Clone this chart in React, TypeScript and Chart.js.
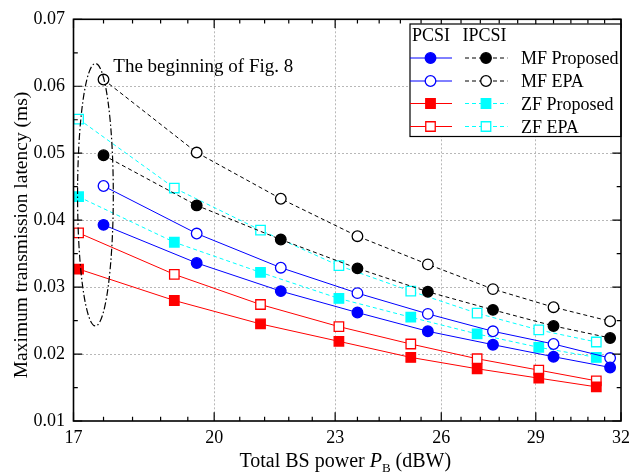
import { useEffect, useRef } from "react";
import { Chart, registerables } from "chart.js";

Chart.register(...registerables);

const FONT = "'Liberation Serif', 'Times New Roman', serif";

const xTickValues = [17, 20, 23, 26, 29, 32];
const yTickValues = [0.01, 0.02, 0.03, 0.04, 0.05, 0.06, 0.07];

// x positions of the markers (dBW)
const xMF = [17.6, 19.6, 21.6, 23.6, 25.6, 27.6, 29.6, 31.6];
const xZF = [17.1, 19.1, 21.1, 23.1, 25.1, 27.1, 29.1, 31.1];

// PCSI
const mfProposedPCSI = [0.0393, 0.0336, 0.0294, 0.0262, 0.0234, 0.0214, 0.0196, 0.018];
const mfEpaPCSI = [0.0451, 0.038, 0.0329, 0.0291, 0.026, 0.0234, 0.0215, 0.0194];
const zfProposedPCSI = [0.0327, 0.028, 0.0245, 0.0219, 0.0195, 0.0178, 0.0164, 0.0151];
const zfEpaPCSI = [0.0381, 0.0319, 0.0274, 0.0241, 0.0215, 0.0193, 0.0176, 0.016];
// IPCSI
const mfProposedIPCSI = [0.0497, 0.0422, 0.0371, 0.0328, 0.0293, 0.0266, 0.0242, 0.0224];
const mfEpaIPCSI = [0.061, 0.0501, 0.0432, 0.0376, 0.0334, 0.0297, 0.027, 0.0249];
const zfProposedIPCSI = [0.0435, 0.0367, 0.0322, 0.0283, 0.0255, 0.023, 0.021, 0.0195];
const zfEpaIPCSI = [0.0551, 0.0448, 0.0385, 0.0332, 0.0294, 0.0261, 0.0236, 0.0218];

const legendLabels = ["MF Proposed", "MF EPA", "ZF Proposed", "ZF EPA"];

// annotation (data coordinates)
const ellipseXRange = [17.08, 17.8];
const ellipseYRange = [0.0242, 0.0634];
const noteText = "The beginning of Fig. 8";
const noteAt = [17.8, 0.0621];

type Spec = {
  label: string;
  xs: number[];
  ys: number[];
  color: string;
  shape: "circle" | "rect";
  filled: boolean;
  dashed: boolean;
};

const specs: Spec[] = [
  { label: "MF Proposed PCSI", xs: xMF, ys: mfProposedPCSI, color: "#0000ff", shape: "circle", filled: true, dashed: false },
  { label: "MF EPA PCSI", xs: xMF, ys: mfEpaPCSI, color: "#0000ff", shape: "circle", filled: false, dashed: false },
  { label: "ZF Proposed PCSI", xs: xZF, ys: zfProposedPCSI, color: "#ff0000", shape: "rect", filled: true, dashed: false },
  { label: "ZF EPA PCSI", xs: xZF, ys: zfEpaPCSI, color: "#ff0000", shape: "rect", filled: false, dashed: false },
  { label: "MF Proposed IPCSI", xs: xMF, ys: mfProposedIPCSI, color: "#000000", shape: "circle", filled: true, dashed: true },
  { label: "MF EPA IPCSI", xs: xMF, ys: mfEpaIPCSI, color: "#000000", shape: "circle", filled: false, dashed: true },
  { label: "ZF Proposed IPCSI", xs: xZF, ys: zfProposedIPCSI, color: "#00ffff", shape: "rect", filled: true, dashed: true },
  { label: "ZF EPA IPCSI", xs: xZF, ys: zfEpaIPCSI, color: "#00ffff", shape: "rect", filled: false, dashed: true },
];

const CIRCLE_R = 5.3;
const RECT_R = 6.7;
const DASH = [4, 3];

function drawMarker(ctx: CanvasRenderingContext2D, s: Spec, x: number, y: number) {
  ctx.save();
  ctx.setLineDash([]);
  ctx.lineWidth = 1.3;
  ctx.strokeStyle = s.color;
  ctx.fillStyle = s.filled ? s.color : "#ffffff";
  ctx.beginPath();
  if (s.shape === "circle") {
    ctx.arc(x, y, CIRCLE_R, 0, Math.PI * 2);
  } else {
    const h = RECT_R * Math.SQRT1_2;
    ctx.rect(x - h, y - h, 2 * h, 2 * h);
  }
  ctx.fill();
  ctx.stroke();
  ctx.restore();
}

const framePlugin = {
  id: "frameDecor",
  afterDatasetsDraw(chart: any) {
    const ctx: CanvasRenderingContext2D = chart.ctx;
    const { left, right, top, bottom } = chart.chartArea;
    const xs = chart.scales.x;
    const ys = chart.scales.y;
    ctx.save();

    // ellipse annotation
    const ex0 = xs.getPixelForValue(ellipseXRange[0]);
    const ex1 = xs.getPixelForValue(ellipseXRange[1]);
    const ey0 = ys.getPixelForValue(ellipseYRange[0]);
    const ey1 = ys.getPixelForValue(ellipseYRange[1]);
    ctx.beginPath();
    ctx.setLineDash([7, 2.5, 1.5, 2.5]);
    ctx.lineWidth = 1.2;
    ctx.strokeStyle = "#000";
    ctx.ellipse((ex0 + ex1) / 2, (ey0 + ey1) / 2, Math.abs(ex1 - ex0) / 2, Math.abs(ey1 - ey0) / 2, 0, 0, Math.PI * 2);
    ctx.stroke();
    ctx.setLineDash([]);

    ctx.fillStyle = "#000";
    ctx.font = `19px ${FONT}`;
    ctx.textAlign = "left";
    ctx.textBaseline = "alphabetic";
    ctx.fillText(noteText, xs.getPixelForValue(noteAt[0]), ys.getPixelForValue(noteAt[1]));

    // ticks (inward)
    ctx.strokeStyle = "#000";
    ctx.lineWidth = 1.2;
    const MAJ = 8.7;
    const MIN = 4.3;
    const xMinor: number[] = [];
    for (let a = 17; a < 32; a += 3) for (let k = 1; k < 5; k++) xMinor.push(a + 0.6 * k);
    const yMinor: number[] = [];
    for (let v = 0.015; v < 0.07; v += 0.01) yMinor.push(v);
    ctx.beginPath();
    xTickValues.forEach((v) => {
      const p = xs.getPixelForValue(v);
      ctx.moveTo(p, bottom); ctx.lineTo(p, bottom - MAJ);
      ctx.moveTo(p, top); ctx.lineTo(p, top + MAJ);
    });
    xMinor.forEach((v) => {
      const p = xs.getPixelForValue(v);
      ctx.moveTo(p, bottom); ctx.lineTo(p, bottom - MIN);
      ctx.moveTo(p, top); ctx.lineTo(p, top + MIN);
    });
    yTickValues.forEach((v) => {
      const p = ys.getPixelForValue(v);
      ctx.moveTo(left, p); ctx.lineTo(left + MAJ, p);
      ctx.moveTo(right, p); ctx.lineTo(right - MAJ, p);
    });
    yMinor.forEach((v) => {
      const p = ys.getPixelForValue(v);
      ctx.moveTo(left, p); ctx.lineTo(left + MIN, p);
      ctx.moveTo(right, p); ctx.lineTo(right - MIN, p);
    });
    ctx.stroke();

    // legend box
    const lx0 = 410, lx1 = right, ly0 = 24, ly1 = 136.5;
    ctx.fillStyle = "#fff";
    ctx.fillRect(lx0, ly0, lx1 - lx0, ly1 - ly0);
    ctx.lineWidth = 1.2;
    ctx.strokeRect(lx0, ly0, lx1 - lx0, ly1 - ly0);
    ctx.fillStyle = "#000";
    ctx.font = `18px ${FONT}`;
    ctx.fillText("PCSI", 412, 40.5);
    ctx.fillText("IPCSI", 462.5, 40.5);
    const rowY = [58, 81, 103.5, 126.5];
    legendLabels.forEach((lab, i) => {
      const y = rowY[i];
      const a = specs[i];
      const b = specs[i + 4];
      ctx.lineWidth = 1;
      ctx.strokeStyle = a.color;
      ctx.setLineDash([]);
      ctx.beginPath(); ctx.moveTo(410, y); ctx.lineTo(452, y); ctx.stroke();
      drawMarker(ctx, a, 430.5, y);
      ctx.strokeStyle = b.color;
      ctx.lineWidth = 1;
      ctx.setLineDash(DASH);
      ctx.beginPath(); ctx.moveTo(465, y); ctx.lineTo(507.5, y); ctx.stroke();
      ctx.setLineDash([]);
      drawMarker(ctx, b, 486, y);
      ctx.fillStyle = "#000";
      ctx.fillText(lab, 521, y + 6.3);
    });

    // frame
    ctx.strokeStyle = "#000";
    ctx.lineWidth = 1.6;
    ctx.strokeRect(left, top, right - left, bottom - top);

    // axis titles
    ctx.fillStyle = "#000";
    const cx = (left + right) / 2 - 2;
    const base = 466.5;
    const p1 = "Total BS power ";
    const p3 = " (dBW)";
    ctx.font = `20px ${FONT}`;
    const w1 = ctx.measureText(p1).width;
    const w3 = ctx.measureText(p3).width;
    ctx.font = `italic 20px ${FONT}`;
    const wP = ctx.measureText("P").width;
    ctx.font = `13px ${FONT}`;
    const wB = ctx.measureText("B").width;
    let x0 = cx - (w1 + wP + wB + w3) / 2;
    ctx.textAlign = "left";
    ctx.font = `20px ${FONT}`;
    ctx.fillText(p1, x0, base);
    x0 += w1;
    ctx.font = `italic 20px ${FONT}`;
    ctx.fillText("P", x0, base);
    x0 += wP;
    ctx.font = `13px ${FONT}`;
    ctx.fillText("B", x0, base + 5);
    x0 += wB;
    ctx.font = `20px ${FONT}`;
    ctx.fillText(p3, x0, base);

    ctx.save();
    ctx.translate(22, 235);
    ctx.rotate(-Math.PI / 2);
    ctx.font = `19.5px ${FONT}`;
    ctx.textAlign = "center";
    ctx.textBaseline = "middle";
    ctx.fillText("Maximum transmission latency (ms)", 0, 0);
    ctx.restore();

    ctx.restore();
  },
};

export default function App() {
  const ref = useRef<HTMLCanvasElement | null>(null);

  useEffect(() => {
    document.body.style.margin = "0";
    const canvas = ref.current;
    if (!canvas) return;
    const datasets = specs.map((s) => ({
      label: s.label,
      data: s.xs.map((x, i) => ({ x, y: s.ys[i] })),
      borderColor: s.color,
      backgroundColor: s.filled ? s.color : "#ffffff",
      borderWidth: 1,
      borderDash: s.dashed ? DASH : [],
      pointStyle: s.shape,
      pointRadius: s.shape === "circle" ? CIRCLE_R : RECT_R,
      pointBorderWidth: 1.3,
      pointBorderColor: s.color,
      pointBackgroundColor: s.filled ? s.color : "#ffffff",
      pointHoverRadius: s.shape === "circle" ? CIRCLE_R : RECT_R,
      tension: 0,
      fill: false,
    }));
    const gridColor = (edgeA: number, edgeB: number) => (c: any) =>
      c.tick && (Math.abs(c.tick.value - edgeA) < 1e-9 || Math.abs(c.tick.value - edgeB) < 1e-9)
        ? "rgba(0,0,0,0)"
        : "#b8b8b8";
    const chart = new Chart(canvas, {
      type: "line",
      data: { datasets },
      options: {
        responsive: false,
        animation: false,
        devicePixelRatio: 1,
        layout: { padding: { left: 0, top: 14, right: 9, bottom: 0 } },
        plugins: { legend: { display: false }, tooltip: { enabled: false }, title: { display: false } },
        scales: {
          x: {
            type: "logarithmic",
            min: 17,
            max: 32,
            afterBuildTicks: (s: any) => {
              s.ticks = xTickValues.map((v) => ({ value: v }));
            },
            afterFit: (s: any) => {
              s.height = 51;
            },
            ticks: {
              callback: (v: any) => String(v),
              font: { family: FONT, size: 18 },
              color: "#000",
              padding: 6,
              maxRotation: 0,
              autoSkip: false,
            },
            grid: { color: gridColor(17, 32), drawTicks: false, lineWidth: 1 },
            border: { display: false, dash: [2, 2] },
          },
          y: {
            type: "linear",
            min: 0.01,
            max: 0.07,
            afterBuildTicks: (s: any) => {
              s.ticks = yTickValues.map((v) => ({ value: v }));
            },
            afterFit: (s: any) => {
              s.width = 73.5;
            },
            ticks: {
              callback: (v: any) => Number(v).toFixed(2),
              font: { family: FONT, size: 18 },
              color: "#000",
              padding: 8.5,
            },
            grid: { color: gridColor(0.01, 0.07), drawTicks: false, lineWidth: 1 },
            border: { display: false, dash: [2, 2] },
          },
        },
      } as any,
      plugins: [framePlugin],
    });
    return () => chart.destroy();
  }, []);

  return (
    <div style={{ position: "fixed", left: 0, top: 0, width: 636, height: 472 }}>
      <canvas ref={ref} width={636} height={472} />
    </div>
  );
}
